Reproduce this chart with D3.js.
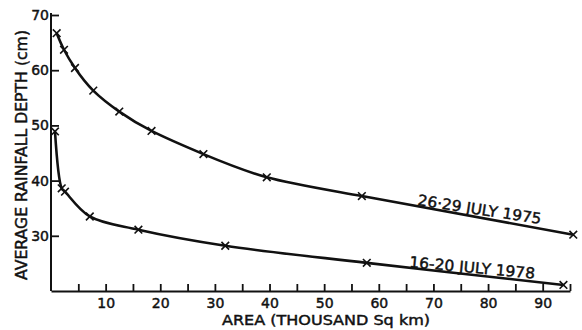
<!DOCTYPE html>
<html>
<head>
<meta charset="utf-8">
<script src="https://cdn.jsdelivr.net/npm/d3@7/dist/d3.min.js"></script>
<style>
  html, body { margin: 0; padding: 0; background: #fff; }
  svg { display: block; }
  text { font-family: "DejaVu Sans", sans-serif; fill: #111; stroke: #111; stroke-width: 0.45px; }
</style>
</head>
<body>
<svg id="chart" width="582" height="330"></svg>
<script>
// ---- data ----
const xTicks = [5,10,15,20,25,30,35,40,45,50,55,60,65,70,75,80,85,90,95];
const xLabels = [10,20,30,40,50,60,70,80,90];
const yTicks = [30,40,50,60,70];

const series1975Name = "26·29 JULY 1975";
const area1975 = [1.04, 2.38, 4.39, 7.74, 12.5, 18.4, 27.9, 39.5, 56.9, 95.6];
const depth1975 = [66.7, 63.7, 60.4, 56.3, 52.5, 49.0, 44.8, 40.6, 37.2, 30.2];

const series1978Name = "16-20 JULY 1978";
const area1978 = [0.73, 1.96, 2.56, 7.1, 16.0, 31.9, 57.8, 93.8];
const depth1978 = [48.9, 38.6, 38.0, 33.5, 31.1, 28.2, 25.1, 21.1];

const xTitle = "AREA (THOUSAND Sq km)";
const yTitle = "AVERAGE RAINFALL DEPTH (cm)";

// ---- drawing ----
const svg = d3.select("#chart");
const x = d3.scaleLinear().domain([0, 95]).range([51, 570]);
const y = d3.scaleLinear().domain([20, 70]).range([291, 15]);
const ink = "#111";

// x axis
const gx = svg.append("g").attr("transform", `translate(0,${y(20)})`)
  .call(d3.axisBottom(x).tickValues(xTicks).tickSizeInner(-7).tickSizeOuter(0).tickPadding(7)
    .tickFormat(d => xLabels.includes(d) ? String(d) : ""));
gx.select(".domain").attr("stroke", ink).attr("stroke-width", 2);
gx.selectAll(".tick line").attr("stroke", ink).attr("stroke-width", 1.8);
gx.selectAll(".tick text").attr("font-size", 14).attr("fill", ink)
  .attr("font-family", "DejaVu Sans");

// y axis
const gy = svg.append("g").attr("transform", `translate(${x(0)},0)`)
  .call(d3.axisLeft(y).tickValues(yTicks).tickSizeInner(-8).tickSizeOuter(0).tickPadding(2)
    .tickFormat(d3.format("d")));
gy.select(".domain").attr("stroke", ink).attr("stroke-width", 2).attr("d", `M0,${y(20)}V${y(70)-2}`);
gy.selectAll(".tick line").attr("stroke", ink).attr("stroke-width", 1.8);
gy.selectAll(".tick text").attr("font-size", 14).attr("fill", ink)
  .attr("font-family", "DejaVu Sans");

// titles
svg.append("text")
  .attr("x", 222).attr("y", 325)
  .attr("font-size", 14)
  .attr("textLength", 208).attr("lengthAdjust", "spacingAndGlyphs")
  .text(xTitle);
svg.append("text")
  .attr("transform", "translate(27,280) rotate(-90)")
  .attr("font-size", 16)
  .attr("textLength", 250).attr("lengthAdjust", "spacingAndGlyphs")
  .text(yTitle);

// series
const lineUpper = d3.line().x(d => x(d[0])).y(d => y(d[1])).curve(d3.curveNatural);
const lineLower = d3.line().x(d => x(d[0])).y(d => y(d[1])).curve(d3.curveCatmullRom.alpha(0.5));
const s1975 = area1975.map((a, i) => [a, depth1975[i]]);
const s1978 = area1978.map((a, i) => [a, depth1978[i]]);
const marker = d3.symbol().type(d3.symbolX).size(40);

[[s1975, lineUpper], [s1978, lineLower]].forEach(([s, ln]) => {
  svg.append("path").datum(s).attr("d", ln)
    .attr("fill", "none").attr("stroke", ink).attr("stroke-width", 2.6).attr("stroke-linejoin", "round");
  svg.append("g").selectAll("path").data(s).join("path")
    .attr("transform", d => `translate(${x(d[0])},${y(d[1])})`)
    .attr("d", marker).attr("fill", "none").attr("stroke", ink).attr("stroke-width", 1.6);
});

// series labels (rotated along the curves)
svg.append("text")
  .attr("transform", "translate(417,205) rotate(8.8)")
  .attr("font-size", 15)
  .attr("textLength", 125).attr("lengthAdjust", "spacingAndGlyphs")
  .text(series1975Name);
svg.append("text")
  .attr("transform", "translate(409,267) rotate(5.3)")
  .attr("font-size", 15)
  .attr("textLength", 126).attr("lengthAdjust", "spacingAndGlyphs")
  .text(series1978Name);
</script>
</body>
</html>
